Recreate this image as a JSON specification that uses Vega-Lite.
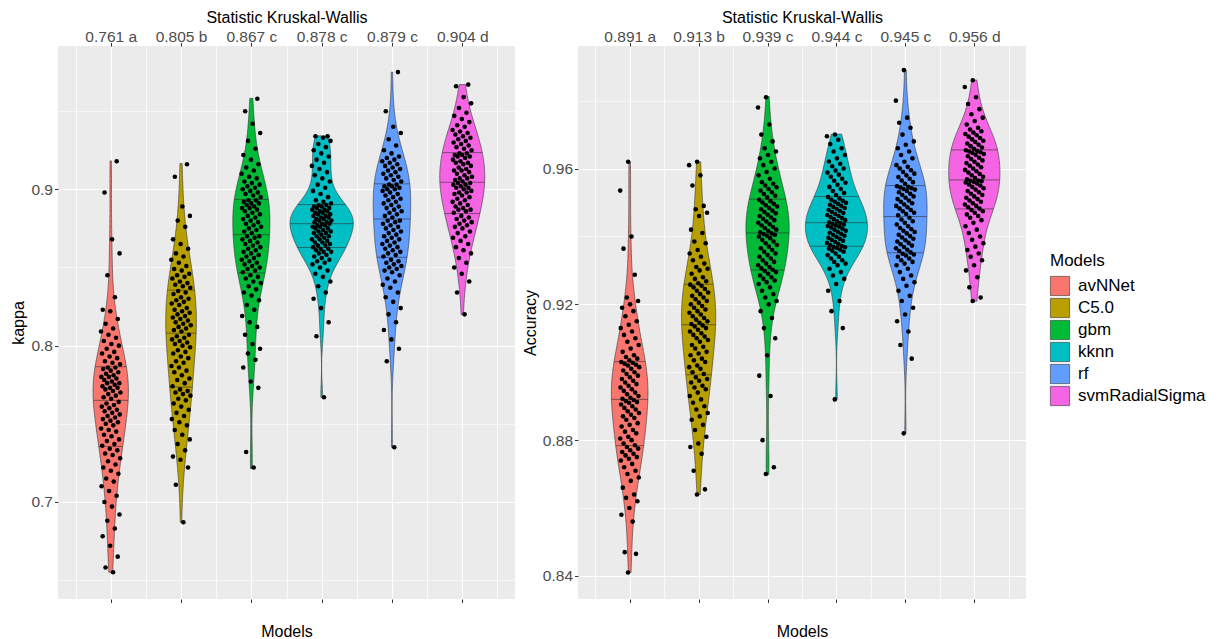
{
"$schema": "https://vega.github.io/schema/vega-lite/v6.json",
"background": "white",
"padding": {"left": 10, "top": 9, "right": 5, "bottom": 0},
"datasets": {"cv": [
{"Models":"avNNet","kappa":0.655,"Accuracy":0.841},{"Models":"avNNet","kappa":0.658,"Accuracy":0.8465},{"Models":"avNNet","kappa":0.665,"Accuracy":0.847},{"Models":"avNNet","kappa":0.672,"Accuracy":0.856},{"Models":"avNNet","kappa":0.678,"Accuracy":0.858},
{"Models":"avNNet","kappa":0.683,"Accuracy":0.86},{"Models":"avNNet","kappa":0.688,"Accuracy":0.862},{"Models":"avNNet","kappa":0.692,"Accuracy":0.863},{"Models":"avNNet","kappa":0.697,"Accuracy":0.864},{"Models":"avNNet","kappa":0.7,"Accuracy":0.866},
{"Models":"avNNet","kappa":0.704,"Accuracy":0.868},{"Models":"avNNet","kappa":0.707,"Accuracy":0.869},{"Models":"avNNet","kappa":0.71,"Accuracy":0.87},{"Models":"avNNet","kappa":0.713,"Accuracy":0.871},{"Models":"avNNet","kappa":0.715,"Accuracy":0.872},
{"Models":"avNNet","kappa":0.718,"Accuracy":0.873},{"Models":"avNNet","kappa":0.72,"Accuracy":0.874},{"Models":"avNNet","kappa":0.722,"Accuracy":0.8745},{"Models":"avNNet","kappa":0.724,"Accuracy":0.875},{"Models":"avNNet","kappa":0.726,"Accuracy":0.8755},
{"Models":"avNNet","kappa":0.728,"Accuracy":0.876},{"Models":"avNNet","kappa":0.73,"Accuracy":0.8765},{"Models":"avNNet","kappa":0.731,"Accuracy":0.877},{"Models":"avNNet","kappa":0.733,"Accuracy":0.8775},{"Models":"avNNet","kappa":0.734,"Accuracy":0.878},
{"Models":"avNNet","kappa":0.736,"Accuracy":0.8785},{"Models":"avNNet","kappa":0.737,"Accuracy":0.879},{"Models":"avNNet","kappa":0.739,"Accuracy":0.88},{"Models":"avNNet","kappa":0.74,"Accuracy":0.8805},{"Models":"avNNet","kappa":0.742,"Accuracy":0.881},
{"Models":"avNNet","kappa":0.743,"Accuracy":0.882},{"Models":"avNNet","kappa":0.745,"Accuracy":0.8825},{"Models":"avNNet","kappa":0.746,"Accuracy":0.883},{"Models":"avNNet","kappa":0.747,"Accuracy":0.884},{"Models":"avNNet","kappa":0.749,"Accuracy":0.8845},
{"Models":"avNNet","kappa":0.75,"Accuracy":0.885},{"Models":"avNNet","kappa":0.751,"Accuracy":0.886},{"Models":"avNNet","kappa":0.752,"Accuracy":0.8865},{"Models":"avNNet","kappa":0.753,"Accuracy":0.887},{"Models":"avNNet","kappa":0.754,"Accuracy":0.8875},
{"Models":"avNNet","kappa":0.755,"Accuracy":0.888},{"Models":"avNNet","kappa":0.756,"Accuracy":0.8885},{"Models":"avNNet","kappa":0.757,"Accuracy":0.889},{"Models":"avNNet","kappa":0.758,"Accuracy":0.8895},{"Models":"avNNet","kappa":0.759,"Accuracy":0.89},
{"Models":"avNNet","kappa":0.76,"Accuracy":0.8905},{"Models":"avNNet","kappa":0.761,"Accuracy":0.891},{"Models":"avNNet","kappa":0.762,"Accuracy":0.8912},{"Models":"avNNet","kappa":0.763,"Accuracy":0.8915},{"Models":"avNNet","kappa":0.764,"Accuracy":0.8918},
{"Models":"avNNet","kappa":0.766,"Accuracy":0.8922},{"Models":"avNNet","kappa":0.767,"Accuracy":0.8925},{"Models":"avNNet","kappa":0.768,"Accuracy":0.893},{"Models":"avNNet","kappa":0.769,"Accuracy":0.8935},{"Models":"avNNet","kappa":0.77,"Accuracy":0.894},
{"Models":"avNNet","kappa":0.771,"Accuracy":0.8945},{"Models":"avNNet","kappa":0.772,"Accuracy":0.895},{"Models":"avNNet","kappa":0.773,"Accuracy":0.8955},{"Models":"avNNet","kappa":0.773,"Accuracy":0.896},{"Models":"avNNet","kappa":0.774,"Accuracy":0.8965},
{"Models":"avNNet","kappa":0.775,"Accuracy":0.897},{"Models":"avNNet","kappa":0.776,"Accuracy":0.8975},{"Models":"avNNet","kappa":0.776,"Accuracy":0.898},{"Models":"avNNet","kappa":0.777,"Accuracy":0.8985},{"Models":"avNNet","kappa":0.778,"Accuracy":0.899},
{"Models":"avNNet","kappa":0.779,"Accuracy":0.8995},{"Models":"avNNet","kappa":0.78,"Accuracy":0.9},{"Models":"avNNet","kappa":0.78,"Accuracy":0.9005},{"Models":"avNNet","kappa":0.781,"Accuracy":0.901},{"Models":"avNNet","kappa":0.782,"Accuracy":0.9015},
{"Models":"avNNet","kappa":0.783,"Accuracy":0.902},{"Models":"avNNet","kappa":0.784,"Accuracy":0.9022},{"Models":"avNNet","kappa":0.785,"Accuracy":0.9025},{"Models":"avNNet","kappa":0.786,"Accuracy":0.9028},{"Models":"avNNet","kappa":0.786,"Accuracy":0.903},
{"Models":"avNNet","kappa":0.788,"Accuracy":0.9035},{"Models":"avNNet","kappa":0.789,"Accuracy":0.904},{"Models":"avNNet","kappa":0.79,"Accuracy":0.9045},{"Models":"avNNet","kappa":0.792,"Accuracy":0.905},{"Models":"avNNet","kappa":0.793,"Accuracy":0.906},
{"Models":"avNNet","kappa":0.795,"Accuracy":0.907},{"Models":"avNNet","kappa":0.796,"Accuracy":0.908},{"Models":"avNNet","kappa":0.798,"Accuracy":0.909},{"Models":"avNNet","kappa":0.8,"Accuracy":0.91},{"Models":"avNNet","kappa":0.801,"Accuracy":0.911},
{"Models":"avNNet","kappa":0.803,"Accuracy":0.912},{"Models":"avNNet","kappa":0.805,"Accuracy":0.913},{"Models":"avNNet","kappa":0.807,"Accuracy":0.914},{"Models":"avNNet","kappa":0.809,"Accuracy":0.915},{"Models":"avNNet","kappa":0.811,"Accuracy":0.9165},
{"Models":"avNNet","kappa":0.814,"Accuracy":0.918},{"Models":"avNNet","kappa":0.817,"Accuracy":0.919},{"Models":"avNNet","kappa":0.822,"Accuracy":0.92},{"Models":"avNNet","kappa":0.823,"Accuracy":0.921},{"Models":"avNNet","kappa":0.831,"Accuracy":0.922},
{"Models":"avNNet","kappa":0.845,"Accuracy":0.9287},{"Models":"avNNet","kappa":0.859,"Accuracy":0.9364},{"Models":"avNNet","kappa":0.868,"Accuracy":0.94},{"Models":"avNNet","kappa":0.898,"Accuracy":0.9535},{"Models":"avNNet","kappa":0.918,"Accuracy":0.962},
{"Models":"C5.0","kappa":0.687,"Accuracy":0.864},{"Models":"C5.0","kappa":0.711,"Accuracy":0.8655},{"Models":"C5.0","kappa":0.722,"Accuracy":0.871},{"Models":"C5.0","kappa":0.727,"Accuracy":0.876},{"Models":"C5.0","kappa":0.729,"Accuracy":0.878},
{"Models":"C5.0","kappa":0.733,"Accuracy":0.879},{"Models":"C5.0","kappa":0.737,"Accuracy":0.881},{"Models":"C5.0","kappa":0.74,"Accuracy":0.883},{"Models":"C5.0","kappa":0.743,"Accuracy":0.8845},{"Models":"C5.0","kappa":0.746,"Accuracy":0.886},
{"Models":"C5.0","kappa":0.749,"Accuracy":0.887},{"Models":"C5.0","kappa":0.751,"Accuracy":0.888},{"Models":"C5.0","kappa":0.753,"Accuracy":0.889},{"Models":"C5.0","kappa":0.755,"Accuracy":0.89},{"Models":"C5.0","kappa":0.757,"Accuracy":0.891},
{"Models":"C5.0","kappa":0.759,"Accuracy":0.892},{"Models":"C5.0","kappa":0.761,"Accuracy":0.893},{"Models":"C5.0","kappa":0.763,"Accuracy":0.894},{"Models":"C5.0","kappa":0.765,"Accuracy":0.895},{"Models":"C5.0","kappa":0.766,"Accuracy":0.8955},
{"Models":"C5.0","kappa":0.768,"Accuracy":0.896},{"Models":"C5.0","kappa":0.769,"Accuracy":0.897},{"Models":"C5.0","kappa":0.77,"Accuracy":0.8975},{"Models":"C5.0","kappa":0.771,"Accuracy":0.898},{"Models":"C5.0","kappa":0.772,"Accuracy":0.8985},
{"Models":"C5.0","kappa":0.774,"Accuracy":0.8995},{"Models":"C5.0","kappa":0.776,"Accuracy":0.9},{"Models":"C5.0","kappa":0.778,"Accuracy":0.901},{"Models":"C5.0","kappa":0.779,"Accuracy":0.9015},{"Models":"C5.0","kappa":0.781,"Accuracy":0.902},
{"Models":"C5.0","kappa":0.783,"Accuracy":0.903},{"Models":"C5.0","kappa":0.784,"Accuracy":0.9035},{"Models":"C5.0","kappa":0.786,"Accuracy":0.904},{"Models":"C5.0","kappa":0.787,"Accuracy":0.905},{"Models":"C5.0","kappa":0.789,"Accuracy":0.9055},
{"Models":"C5.0","kappa":0.79,"Accuracy":0.906},{"Models":"C5.0","kappa":0.792,"Accuracy":0.907},{"Models":"C5.0","kappa":0.793,"Accuracy":0.9075},{"Models":"C5.0","kappa":0.795,"Accuracy":0.908},{"Models":"C5.0","kappa":0.796,"Accuracy":0.909},
{"Models":"C5.0","kappa":0.797,"Accuracy":0.9095},{"Models":"C5.0","kappa":0.799,"Accuracy":0.91},{"Models":"C5.0","kappa":0.8,"Accuracy":0.9105},{"Models":"C5.0","kappa":0.801,"Accuracy":0.911},{"Models":"C5.0","kappa":0.802,"Accuracy":0.9115},
{"Models":"C5.0","kappa":0.803,"Accuracy":0.912},{"Models":"C5.0","kappa":0.804,"Accuracy":0.9125},{"Models":"C5.0","kappa":0.805,"Accuracy":0.913},{"Models":"C5.0","kappa":0.806,"Accuracy":0.9135},{"Models":"C5.0","kappa":0.807,"Accuracy":0.9138},
{"Models":"C5.0","kappa":0.809,"Accuracy":0.9142},{"Models":"C5.0","kappa":0.81,"Accuracy":0.9146},{"Models":"C5.0","kappa":0.811,"Accuracy":0.915},{"Models":"C5.0","kappa":0.812,"Accuracy":0.9155},{"Models":"C5.0","kappa":0.813,"Accuracy":0.916},
{"Models":"C5.0","kappa":0.814,"Accuracy":0.9165},{"Models":"C5.0","kappa":0.815,"Accuracy":0.917},{"Models":"C5.0","kappa":0.816,"Accuracy":0.9175},{"Models":"C5.0","kappa":0.817,"Accuracy":0.918},{"Models":"C5.0","kappa":0.818,"Accuracy":0.9185},
{"Models":"C5.0","kappa":0.819,"Accuracy":0.919},{"Models":"C5.0","kappa":0.82,"Accuracy":0.9195},{"Models":"C5.0","kappa":0.821,"Accuracy":0.92},{"Models":"C5.0","kappa":0.822,"Accuracy":0.9205},{"Models":"C5.0","kappa":0.823,"Accuracy":0.921},
{"Models":"C5.0","kappa":0.824,"Accuracy":0.9215},{"Models":"C5.0","kappa":0.826,"Accuracy":0.922},{"Models":"C5.0","kappa":0.827,"Accuracy":0.9225},{"Models":"C5.0","kappa":0.828,"Accuracy":0.923},{"Models":"C5.0","kappa":0.829,"Accuracy":0.9235},
{"Models":"C5.0","kappa":0.83,"Accuracy":0.924},{"Models":"C5.0","kappa":0.831,"Accuracy":0.9245},{"Models":"C5.0","kappa":0.833,"Accuracy":0.925},{"Models":"C5.0","kappa":0.834,"Accuracy":0.9255},{"Models":"C5.0","kappa":0.835,"Accuracy":0.9258},
{"Models":"C5.0","kappa":0.837,"Accuracy":0.9262},{"Models":"C5.0","kappa":0.838,"Accuracy":0.9268},{"Models":"C5.0","kappa":0.839,"Accuracy":0.9275},{"Models":"C5.0","kappa":0.84,"Accuracy":0.928},{"Models":"C5.0","kappa":0.841,"Accuracy":0.929},
{"Models":"C5.0","kappa":0.843,"Accuracy":0.93},{"Models":"C5.0","kappa":0.844,"Accuracy":0.9305},{"Models":"C5.0","kappa":0.845,"Accuracy":0.931},{"Models":"C5.0","kappa":0.846,"Accuracy":0.932},{"Models":"C5.0","kappa":0.848,"Accuracy":0.933},
{"Models":"C5.0","kappa":0.849,"Accuracy":0.934},{"Models":"C5.0","kappa":0.851,"Accuracy":0.935},{"Models":"C5.0","kappa":0.853,"Accuracy":0.936},{"Models":"C5.0","kappa":0.855,"Accuracy":0.938},{"Models":"C5.0","kappa":0.857,"Accuracy":0.9385},
{"Models":"C5.0","kappa":0.859,"Accuracy":0.941},{"Models":"C5.0","kappa":0.862,"Accuracy":0.942},{"Models":"C5.0","kappa":0.865,"Accuracy":0.946},{"Models":"C5.0","kappa":0.868,"Accuracy":0.947},{"Models":"C5.0","kappa":0.876,"Accuracy":0.948},
{"Models":"C5.0","kappa":0.88,"Accuracy":0.949},{"Models":"C5.0","kappa":0.883,"Accuracy":0.955},{"Models":"C5.0","kappa":0.889,"Accuracy":0.958},{"Models":"C5.0","kappa":0.908,"Accuracy":0.961},{"Models":"C5.0","kappa":0.916,"Accuracy":0.962},
{"Models":"gbm","kappa":0.722,"Accuracy":0.87},{"Models":"gbm","kappa":0.732,"Accuracy":0.872},{"Models":"gbm","kappa":0.773,"Accuracy":0.88},{"Models":"gbm","kappa":0.777,"Accuracy":0.893},{"Models":"gbm","kappa":0.786,"Accuracy":0.899},
{"Models":"gbm","kappa":0.791,"Accuracy":0.905},{"Models":"gbm","kappa":0.795,"Accuracy":0.91},{"Models":"gbm","kappa":0.798,"Accuracy":0.913},{"Models":"gbm","kappa":0.801,"Accuracy":0.916},{"Models":"gbm","kappa":0.807,"Accuracy":0.918},
{"Models":"gbm","kappa":0.812,"Accuracy":0.92},{"Models":"gbm","kappa":0.815,"Accuracy":0.921},{"Models":"gbm","kappa":0.819,"Accuracy":0.922},{"Models":"gbm","kappa":0.823,"Accuracy":0.923},{"Models":"gbm","kappa":0.826,"Accuracy":0.924},
{"Models":"gbm","kappa":0.829,"Accuracy":0.925},{"Models":"gbm","kappa":0.832,"Accuracy":0.926},{"Models":"gbm","kappa":0.834,"Accuracy":0.9265},{"Models":"gbm","kappa":0.836,"Accuracy":0.927},{"Models":"gbm","kappa":0.838,"Accuracy":0.9275},
{"Models":"gbm","kappa":0.84,"Accuracy":0.928},{"Models":"gbm","kappa":0.841,"Accuracy":0.9285},{"Models":"gbm","kappa":0.843,"Accuracy":0.929},{"Models":"gbm","kappa":0.844,"Accuracy":0.9295},{"Models":"gbm","kappa":0.845,"Accuracy":0.9298},
{"Models":"gbm","kappa":0.847,"Accuracy":0.9302},{"Models":"gbm","kappa":0.848,"Accuracy":0.9306},{"Models":"gbm","kappa":0.849,"Accuracy":0.931},{"Models":"gbm","kappa":0.85,"Accuracy":0.9315},{"Models":"gbm","kappa":0.851,"Accuracy":0.932},
{"Models":"gbm","kappa":0.852,"Accuracy":0.9325},{"Models":"gbm","kappa":0.853,"Accuracy":0.933},{"Models":"gbm","kappa":0.854,"Accuracy":0.9335},{"Models":"gbm","kappa":0.855,"Accuracy":0.934},{"Models":"gbm","kappa":0.856,"Accuracy":0.9345},
{"Models":"gbm","kappa":0.857,"Accuracy":0.935},{"Models":"gbm","kappa":0.858,"Accuracy":0.9355},{"Models":"gbm","kappa":0.859,"Accuracy":0.936},{"Models":"gbm","kappa":0.86,"Accuracy":0.9365},{"Models":"gbm","kappa":0.861,"Accuracy":0.937},
{"Models":"gbm","kappa":0.862,"Accuracy":0.9375},{"Models":"gbm","kappa":0.863,"Accuracy":0.938},{"Models":"gbm","kappa":0.864,"Accuracy":0.9385},{"Models":"gbm","kappa":0.865,"Accuracy":0.939},{"Models":"gbm","kappa":0.866,"Accuracy":0.9395},
{"Models":"gbm","kappa":0.867,"Accuracy":0.94},{"Models":"gbm","kappa":0.868,"Accuracy":0.9402},{"Models":"gbm","kappa":0.869,"Accuracy":0.9405},{"Models":"gbm","kappa":0.87,"Accuracy":0.9407},{"Models":"gbm","kappa":0.87,"Accuracy":0.9409},
{"Models":"gbm","kappa":0.872,"Accuracy":0.9412},{"Models":"gbm","kappa":0.873,"Accuracy":0.9416},{"Models":"gbm","kappa":0.874,"Accuracy":0.942},{"Models":"gbm","kappa":0.875,"Accuracy":0.9424},{"Models":"gbm","kappa":0.876,"Accuracy":0.9428},
{"Models":"gbm","kappa":0.877,"Accuracy":0.9432},{"Models":"gbm","kappa":0.878,"Accuracy":0.9436},{"Models":"gbm","kappa":0.879,"Accuracy":0.944},{"Models":"gbm","kappa":0.88,"Accuracy":0.9444},{"Models":"gbm","kappa":0.881,"Accuracy":0.9448},
{"Models":"gbm","kappa":0.882,"Accuracy":0.9452},{"Models":"gbm","kappa":0.883,"Accuracy":0.9456},{"Models":"gbm","kappa":0.884,"Accuracy":0.946},{"Models":"gbm","kappa":0.885,"Accuracy":0.9464},{"Models":"gbm","kappa":0.886,"Accuracy":0.9468},
{"Models":"gbm","kappa":0.887,"Accuracy":0.9472},{"Models":"gbm","kappa":0.888,"Accuracy":0.9476},{"Models":"gbm","kappa":0.888,"Accuracy":0.948},{"Models":"gbm","kappa":0.889,"Accuracy":0.9484},{"Models":"gbm","kappa":0.89,"Accuracy":0.9488},
{"Models":"gbm","kappa":0.891,"Accuracy":0.9492},{"Models":"gbm","kappa":0.891,"Accuracy":0.9496},{"Models":"gbm","kappa":0.892,"Accuracy":0.95},{"Models":"gbm","kappa":0.893,"Accuracy":0.9504},{"Models":"gbm","kappa":0.893,"Accuracy":0.9508},
{"Models":"gbm","kappa":0.895,"Accuracy":0.9515},{"Models":"gbm","kappa":0.896,"Accuracy":0.952},{"Models":"gbm","kappa":0.897,"Accuracy":0.9525},{"Models":"gbm","kappa":0.898,"Accuracy":0.953},{"Models":"gbm","kappa":0.899,"Accuracy":0.9535},
{"Models":"gbm","kappa":0.9,"Accuracy":0.954},{"Models":"gbm","kappa":0.901,"Accuracy":0.9545},{"Models":"gbm","kappa":0.902,"Accuracy":0.955},{"Models":"gbm","kappa":0.903,"Accuracy":0.9555},{"Models":"gbm","kappa":0.904,"Accuracy":0.956},
{"Models":"gbm","kappa":0.905,"Accuracy":0.957},{"Models":"gbm","kappa":0.907,"Accuracy":0.958},{"Models":"gbm","kappa":0.908,"Accuracy":0.959},{"Models":"gbm","kappa":0.91,"Accuracy":0.96},{"Models":"gbm","kappa":0.912,"Accuracy":0.961},
{"Models":"gbm","kappa":0.914,"Accuracy":0.962},{"Models":"gbm","kappa":0.916,"Accuracy":0.963},{"Models":"gbm","kappa":0.919,"Accuracy":0.964},{"Models":"gbm","kappa":0.922,"Accuracy":0.965},{"Models":"gbm","kappa":0.926,"Accuracy":0.966},
{"Models":"gbm","kappa":0.931,"Accuracy":0.968},{"Models":"gbm","kappa":0.936,"Accuracy":0.97},{"Models":"gbm","kappa":0.942,"Accuracy":0.973},{"Models":"gbm","kappa":0.95,"Accuracy":0.978},{"Models":"gbm","kappa":0.958,"Accuracy":0.981},
{"Models":"kknn","kappa":0.767,"Accuracy":0.892},{"Models":"kknn","kappa":0.806,"Accuracy":0.913},{"Models":"kknn","kappa":0.815,"Accuracy":0.918},{"Models":"kknn","kappa":0.824,"Accuracy":0.921},{"Models":"kknn","kappa":0.83,"Accuracy":0.924},
{"Models":"kknn","kappa":0.834,"Accuracy":0.926},{"Models":"kknn","kappa":0.838,"Accuracy":0.9275},{"Models":"kknn","kappa":0.841,"Accuracy":0.9285},{"Models":"kknn","kappa":0.844,"Accuracy":0.9295},{"Models":"kknn","kappa":0.846,"Accuracy":0.9305},
{"Models":"kknn","kappa":0.848,"Accuracy":0.9315},{"Models":"kknn","kappa":0.85,"Accuracy":0.932},{"Models":"kknn","kappa":0.852,"Accuracy":0.9325},{"Models":"kknn","kappa":0.853,"Accuracy":0.933},{"Models":"kknn","kappa":0.854,"Accuracy":0.9335},
{"Models":"kknn","kappa":0.855,"Accuracy":0.934},{"Models":"kknn","kappa":0.856,"Accuracy":0.9345},{"Models":"kknn","kappa":0.857,"Accuracy":0.935},{"Models":"kknn","kappa":0.858,"Accuracy":0.9355},{"Models":"kknn","kappa":0.859,"Accuracy":0.9358},
{"Models":"kknn","kappa":0.86,"Accuracy":0.9361},{"Models":"kknn","kappa":0.86,"Accuracy":0.9364},{"Models":"kknn","kappa":0.861,"Accuracy":0.9366},{"Models":"kknn","kappa":0.862,"Accuracy":0.9368},{"Models":"kknn","kappa":0.862,"Accuracy":0.9369},
{"Models":"kknn","kappa":0.863,"Accuracy":0.9372},{"Models":"kknn","kappa":0.864,"Accuracy":0.9375},{"Models":"kknn","kappa":0.864,"Accuracy":0.9378},{"Models":"kknn","kappa":0.865,"Accuracy":0.9381},{"Models":"kknn","kappa":0.866,"Accuracy":0.9384},
{"Models":"kknn","kappa":0.866,"Accuracy":0.9387},{"Models":"kknn","kappa":0.867,"Accuracy":0.939},{"Models":"kknn","kappa":0.868,"Accuracy":0.9393},{"Models":"kknn","kappa":0.868,"Accuracy":0.9396},{"Models":"kknn","kappa":0.869,"Accuracy":0.9399},
{"Models":"kknn","kappa":0.87,"Accuracy":0.9402},{"Models":"kknn","kappa":0.87,"Accuracy":0.9405},{"Models":"kknn","kappa":0.871,"Accuracy":0.9408},{"Models":"kknn","kappa":0.872,"Accuracy":0.9411},{"Models":"kknn","kappa":0.872,"Accuracy":0.9414},
{"Models":"kknn","kappa":0.873,"Accuracy":0.9417},{"Models":"kknn","kappa":0.873,"Accuracy":0.942},{"Models":"kknn","kappa":0.874,"Accuracy":0.9423},{"Models":"kknn","kappa":0.875,"Accuracy":0.9426},{"Models":"kknn","kappa":0.875,"Accuracy":0.9429},
{"Models":"kknn","kappa":0.876,"Accuracy":0.9431},{"Models":"kknn","kappa":0.876,"Accuracy":0.9433},{"Models":"kknn","kappa":0.877,"Accuracy":0.9435},{"Models":"kknn","kappa":0.877,"Accuracy":0.9437},{"Models":"kknn","kappa":0.878,"Accuracy":0.9439},
{"Models":"kknn","kappa":0.878,"Accuracy":0.9442},{"Models":"kknn","kappa":0.879,"Accuracy":0.9445},{"Models":"kknn","kappa":0.879,"Accuracy":0.9448},{"Models":"kknn","kappa":0.88,"Accuracy":0.9451},{"Models":"kknn","kappa":0.88,"Accuracy":0.9454},
{"Models":"kknn","kappa":0.881,"Accuracy":0.9457},{"Models":"kknn","kappa":0.881,"Accuracy":0.946},{"Models":"kknn","kappa":0.882,"Accuracy":0.9463},{"Models":"kknn","kappa":0.882,"Accuracy":0.9466},{"Models":"kknn","kappa":0.883,"Accuracy":0.9469},
{"Models":"kknn","kappa":0.883,"Accuracy":0.9472},{"Models":"kknn","kappa":0.884,"Accuracy":0.9475},{"Models":"kknn","kappa":0.884,"Accuracy":0.9478},{"Models":"kknn","kappa":0.885,"Accuracy":0.9481},{"Models":"kknn","kappa":0.885,"Accuracy":0.9484},
{"Models":"kknn","kappa":0.886,"Accuracy":0.9487},{"Models":"kknn","kappa":0.886,"Accuracy":0.949},{"Models":"kknn","kappa":0.887,"Accuracy":0.9493},{"Models":"kknn","kappa":0.887,"Accuracy":0.9496},{"Models":"kknn","kappa":0.888,"Accuracy":0.9499},
{"Models":"kknn","kappa":0.888,"Accuracy":0.9502},{"Models":"kknn","kappa":0.889,"Accuracy":0.9505},{"Models":"kknn","kappa":0.889,"Accuracy":0.9508},{"Models":"kknn","kappa":0.89,"Accuracy":0.9512},{"Models":"kknn","kappa":0.89,"Accuracy":0.9516},
{"Models":"kknn","kappa":0.891,"Accuracy":0.9522},{"Models":"kknn","kappa":0.892,"Accuracy":0.9528},{"Models":"kknn","kappa":0.893,"Accuracy":0.9534},{"Models":"kknn","kappa":0.895,"Accuracy":0.954},{"Models":"kknn","kappa":0.897,"Accuracy":0.9546},
{"Models":"kknn","kappa":0.899,"Accuracy":0.9552},{"Models":"kknn","kappa":0.901,"Accuracy":0.9558},{"Models":"kknn","kappa":0.903,"Accuracy":0.9564},{"Models":"kknn","kappa":0.905,"Accuracy":0.957},{"Models":"kknn","kappa":0.907,"Accuracy":0.9576},
{"Models":"kknn","kappa":0.909,"Accuracy":0.9582},{"Models":"kknn","kappa":0.911,"Accuracy":0.9588},{"Models":"kknn","kappa":0.913,"Accuracy":0.9594},{"Models":"kknn","kappa":0.915,"Accuracy":0.96},{"Models":"kknn","kappa":0.917,"Accuracy":0.9607},
{"Models":"kknn","kappa":0.919,"Accuracy":0.9614},{"Models":"kknn","kappa":0.921,"Accuracy":0.9621},{"Models":"kknn","kappa":0.923,"Accuracy":0.963},{"Models":"kknn","kappa":0.925,"Accuracy":0.964},{"Models":"kknn","kappa":0.927,"Accuracy":0.965},
{"Models":"kknn","kappa":0.929,"Accuracy":0.966},{"Models":"kknn","kappa":0.931,"Accuracy":0.9672},{"Models":"kknn","kappa":0.933,"Accuracy":0.9685},{"Models":"kknn","kappa":0.934,"Accuracy":0.9695},{"Models":"kknn","kappa":0.934,"Accuracy":0.97},
{"Models":"rf","kappa":0.735,"Accuracy":0.882},{"Models":"rf","kappa":0.79,"Accuracy":0.904},{"Models":"rf","kappa":0.798,"Accuracy":0.908},{"Models":"rf","kappa":0.804,"Accuracy":0.912},{"Models":"rf","kappa":0.81,"Accuracy":0.915},
{"Models":"rf","kappa":0.815,"Accuracy":0.917},{"Models":"rf","kappa":0.82,"Accuracy":0.919},{"Models":"rf","kappa":0.824,"Accuracy":0.921},{"Models":"rf","kappa":0.828,"Accuracy":0.9225},{"Models":"rf","kappa":0.831,"Accuracy":0.924},
{"Models":"rf","kappa":0.834,"Accuracy":0.9255},{"Models":"rf","kappa":0.837,"Accuracy":0.9265},{"Models":"rf","kappa":0.839,"Accuracy":0.9275},{"Models":"rf","kappa":0.841,"Accuracy":0.9285},{"Models":"rf","kappa":0.843,"Accuracy":0.9295},
{"Models":"rf","kappa":0.845,"Accuracy":0.9305},{"Models":"rf","kappa":0.847,"Accuracy":0.9315},{"Models":"rf","kappa":0.848,"Accuracy":0.932},{"Models":"rf","kappa":0.849,"Accuracy":0.9325},{"Models":"rf","kappa":0.85,"Accuracy":0.933},
{"Models":"rf","kappa":0.851,"Accuracy":0.9335},{"Models":"rf","kappa":0.852,"Accuracy":0.934},{"Models":"rf","kappa":0.853,"Accuracy":0.9344},{"Models":"rf","kappa":0.854,"Accuracy":0.9347},{"Models":"rf","kappa":0.855,"Accuracy":0.9349},
{"Models":"rf","kappa":0.857,"Accuracy":0.9353},{"Models":"rf","kappa":0.858,"Accuracy":0.9357},{"Models":"rf","kappa":0.859,"Accuracy":0.9361},{"Models":"rf","kappa":0.86,"Accuracy":0.9365},{"Models":"rf","kappa":0.861,"Accuracy":0.9369},
{"Models":"rf","kappa":0.862,"Accuracy":0.9373},{"Models":"rf","kappa":0.863,"Accuracy":0.9377},{"Models":"rf","kappa":0.864,"Accuracy":0.9381},{"Models":"rf","kappa":0.865,"Accuracy":0.9385},{"Models":"rf","kappa":0.866,"Accuracy":0.9389},
{"Models":"rf","kappa":0.867,"Accuracy":0.9393},{"Models":"rf","kappa":0.868,"Accuracy":0.9397},{"Models":"rf","kappa":0.869,"Accuracy":0.9401},{"Models":"rf","kappa":0.87,"Accuracy":0.9405},{"Models":"rf","kappa":0.871,"Accuracy":0.9409},
{"Models":"rf","kappa":0.872,"Accuracy":0.9413},{"Models":"rf","kappa":0.873,"Accuracy":0.9417},{"Models":"rf","kappa":0.874,"Accuracy":0.9421},{"Models":"rf","kappa":0.875,"Accuracy":0.9425},{"Models":"rf","kappa":0.876,"Accuracy":0.943},
{"Models":"rf","kappa":0.877,"Accuracy":0.9435},{"Models":"rf","kappa":0.878,"Accuracy":0.944},{"Models":"rf","kappa":0.879,"Accuracy":0.9445},{"Models":"rf","kappa":0.88,"Accuracy":0.945},{"Models":"rf","kappa":0.88,"Accuracy":0.9455},
{"Models":"rf","kappa":0.882,"Accuracy":0.9462},{"Models":"rf","kappa":0.883,"Accuracy":0.9466},{"Models":"rf","kappa":0.884,"Accuracy":0.947},{"Models":"rf","kappa":0.885,"Accuracy":0.9474},{"Models":"rf","kappa":0.886,"Accuracy":0.9478},
{"Models":"rf","kappa":0.887,"Accuracy":0.9482},{"Models":"rf","kappa":0.888,"Accuracy":0.9486},{"Models":"rf","kappa":0.889,"Accuracy":0.949},{"Models":"rf","kappa":0.89,"Accuracy":0.9494},{"Models":"rf","kappa":0.891,"Accuracy":0.9498},
{"Models":"rf","kappa":0.892,"Accuracy":0.9502},{"Models":"rf","kappa":0.893,"Accuracy":0.9506},{"Models":"rf","kappa":0.894,"Accuracy":0.951},{"Models":"rf","kappa":0.895,"Accuracy":0.9514},{"Models":"rf","kappa":0.896,"Accuracy":0.9518},
{"Models":"rf","kappa":0.897,"Accuracy":0.9522},{"Models":"rf","kappa":0.898,"Accuracy":0.9526},{"Models":"rf","kappa":0.899,"Accuracy":0.953},{"Models":"rf","kappa":0.9,"Accuracy":0.9534},{"Models":"rf","kappa":0.9,"Accuracy":0.9538},
{"Models":"rf","kappa":0.901,"Accuracy":0.954},{"Models":"rf","kappa":0.902,"Accuracy":0.9542},{"Models":"rf","kappa":0.902,"Accuracy":0.9544},{"Models":"rf","kappa":0.903,"Accuracy":0.9546},{"Models":"rf","kappa":0.903,"Accuracy":0.9548},
{"Models":"rf","kappa":0.905,"Accuracy":0.9555},{"Models":"rf","kappa":0.906,"Accuracy":0.956},{"Models":"rf","kappa":0.907,"Accuracy":0.9565},{"Models":"rf","kappa":0.908,"Accuracy":0.957},{"Models":"rf","kappa":0.909,"Accuracy":0.9575},
{"Models":"rf","kappa":0.91,"Accuracy":0.958},{"Models":"rf","kappa":0.911,"Accuracy":0.9585},{"Models":"rf","kappa":0.912,"Accuracy":0.959},{"Models":"rf","kappa":0.913,"Accuracy":0.9595},{"Models":"rf","kappa":0.914,"Accuracy":0.96},
{"Models":"rf","kappa":0.915,"Accuracy":0.9605},{"Models":"rf","kappa":0.916,"Accuracy":0.961},{"Models":"rf","kappa":0.917,"Accuracy":0.962},{"Models":"rf","kappa":0.918,"Accuracy":0.963},{"Models":"rf","kappa":0.919,"Accuracy":0.964},
{"Models":"rf","kappa":0.92,"Accuracy":0.965},{"Models":"rf","kappa":0.921,"Accuracy":0.966},{"Models":"rf","kappa":0.923,"Accuracy":0.967},{"Models":"rf","kappa":0.925,"Accuracy":0.968},{"Models":"rf","kappa":0.928,"Accuracy":0.97},
{"Models":"rf","kappa":0.932,"Accuracy":0.972},{"Models":"rf","kappa":0.936,"Accuracy":0.9735},{"Models":"rf","kappa":0.94,"Accuracy":0.975},{"Models":"rf","kappa":0.95,"Accuracy":0.98},{"Models":"rf","kappa":0.975,"Accuracy":0.989},
{"Models":"svmRadialSigma","kappa":0.82,"Accuracy":0.921},{"Models":"svmRadialSigma","kappa":0.834,"Accuracy":0.922},{"Models":"svmRadialSigma","kappa":0.841,"Accuracy":0.925},{"Models":"svmRadialSigma","kappa":0.846,"Accuracy":0.928},{"Models":"svmRadialSigma","kappa":0.85,"Accuracy":0.93},
{"Models":"svmRadialSigma","kappa":0.853,"Accuracy":0.9315},{"Models":"svmRadialSigma","kappa":0.856,"Accuracy":0.933},{"Models":"svmRadialSigma","kappa":0.859,"Accuracy":0.934},{"Models":"svmRadialSigma","kappa":0.861,"Accuracy":0.935},{"Models":"svmRadialSigma","kappa":0.863,"Accuracy":0.936},
{"Models":"svmRadialSigma","kappa":0.865,"Accuracy":0.937},{"Models":"svmRadialSigma","kappa":0.867,"Accuracy":0.938},{"Models":"svmRadialSigma","kappa":0.869,"Accuracy":0.939},{"Models":"svmRadialSigma","kappa":0.87,"Accuracy":0.94},{"Models":"svmRadialSigma","kappa":0.872,"Accuracy":0.941},
{"Models":"svmRadialSigma","kappa":0.873,"Accuracy":0.942},{"Models":"svmRadialSigma","kappa":0.875,"Accuracy":0.943},{"Models":"svmRadialSigma","kappa":0.876,"Accuracy":0.944},{"Models":"svmRadialSigma","kappa":0.877,"Accuracy":0.9448},{"Models":"svmRadialSigma","kappa":0.878,"Accuracy":0.9455},
{"Models":"svmRadialSigma","kappa":0.879,"Accuracy":0.946},{"Models":"svmRadialSigma","kappa":0.88,"Accuracy":0.9465},{"Models":"svmRadialSigma","kappa":0.881,"Accuracy":0.947},{"Models":"svmRadialSigma","kappa":0.882,"Accuracy":0.9474},{"Models":"svmRadialSigma","kappa":0.883,"Accuracy":0.9478},
{"Models":"svmRadialSigma","kappa":0.885,"Accuracy":0.9482},{"Models":"svmRadialSigma","kappa":0.886,"Accuracy":0.9486},{"Models":"svmRadialSigma","kappa":0.887,"Accuracy":0.949},{"Models":"svmRadialSigma","kappa":0.887,"Accuracy":0.9494},{"Models":"svmRadialSigma","kappa":0.888,"Accuracy":0.9498},
{"Models":"svmRadialSigma","kappa":0.889,"Accuracy":0.9502},{"Models":"svmRadialSigma","kappa":0.89,"Accuracy":0.9506},{"Models":"svmRadialSigma","kappa":0.891,"Accuracy":0.951},{"Models":"svmRadialSigma","kappa":0.892,"Accuracy":0.9514},{"Models":"svmRadialSigma","kappa":0.893,"Accuracy":0.9518},
{"Models":"svmRadialSigma","kappa":0.894,"Accuracy":0.9522},{"Models":"svmRadialSigma","kappa":0.895,"Accuracy":0.9526},{"Models":"svmRadialSigma","kappa":0.896,"Accuracy":0.953},{"Models":"svmRadialSigma","kappa":0.897,"Accuracy":0.9534},{"Models":"svmRadialSigma","kappa":0.898,"Accuracy":0.9538},
{"Models":"svmRadialSigma","kappa":0.898,"Accuracy":0.9542},{"Models":"svmRadialSigma","kappa":0.899,"Accuracy":0.9546},{"Models":"svmRadialSigma","kappa":0.9,"Accuracy":0.955},{"Models":"svmRadialSigma","kappa":0.901,"Accuracy":0.9553},{"Models":"svmRadialSigma","kappa":0.901,"Accuracy":0.9556},
{"Models":"svmRadialSigma","kappa":0.902,"Accuracy":0.9559},{"Models":"svmRadialSigma","kappa":0.903,"Accuracy":0.9561},{"Models":"svmRadialSigma","kappa":0.903,"Accuracy":0.9563},{"Models":"svmRadialSigma","kappa":0.904,"Accuracy":0.9564},{"Models":"svmRadialSigma","kappa":0.904,"Accuracy":0.9565},
{"Models":"svmRadialSigma","kappa":0.905,"Accuracy":0.9568},{"Models":"svmRadialSigma","kappa":0.906,"Accuracy":0.9572},{"Models":"svmRadialSigma","kappa":0.907,"Accuracy":0.9576},{"Models":"svmRadialSigma","kappa":0.907,"Accuracy":0.958},{"Models":"svmRadialSigma","kappa":0.908,"Accuracy":0.9584},
{"Models":"svmRadialSigma","kappa":0.909,"Accuracy":0.9588},{"Models":"svmRadialSigma","kappa":0.91,"Accuracy":0.9592},{"Models":"svmRadialSigma","kappa":0.911,"Accuracy":0.9596},{"Models":"svmRadialSigma","kappa":0.912,"Accuracy":0.96},{"Models":"svmRadialSigma","kappa":0.912,"Accuracy":0.9604},
{"Models":"svmRadialSigma","kappa":0.913,"Accuracy":0.9608},{"Models":"svmRadialSigma","kappa":0.914,"Accuracy":0.9612},{"Models":"svmRadialSigma","kappa":0.915,"Accuracy":0.9616},{"Models":"svmRadialSigma","kappa":0.916,"Accuracy":0.962},{"Models":"svmRadialSigma","kappa":0.917,"Accuracy":0.9624},
{"Models":"svmRadialSigma","kappa":0.917,"Accuracy":0.9628},{"Models":"svmRadialSigma","kappa":0.918,"Accuracy":0.9632},{"Models":"svmRadialSigma","kappa":0.919,"Accuracy":0.9636},{"Models":"svmRadialSigma","kappa":0.92,"Accuracy":0.964},{"Models":"svmRadialSigma","kappa":0.921,"Accuracy":0.9643},
{"Models":"svmRadialSigma","kappa":0.921,"Accuracy":0.9646},{"Models":"svmRadialSigma","kappa":0.922,"Accuracy":0.9648},{"Models":"svmRadialSigma","kappa":0.922,"Accuracy":0.965},{"Models":"svmRadialSigma","kappa":0.923,"Accuracy":0.9652},{"Models":"svmRadialSigma","kappa":0.923,"Accuracy":0.9654},
{"Models":"svmRadialSigma","kappa":0.925,"Accuracy":0.9658},{"Models":"svmRadialSigma","kappa":0.926,"Accuracy":0.9662},{"Models":"svmRadialSigma","kappa":0.927,"Accuracy":0.9666},{"Models":"svmRadialSigma","kappa":0.928,"Accuracy":0.967},{"Models":"svmRadialSigma","kappa":0.929,"Accuracy":0.9674},
{"Models":"svmRadialSigma","kappa":0.93,"Accuracy":0.9678},{"Models":"svmRadialSigma","kappa":0.931,"Accuracy":0.9682},{"Models":"svmRadialSigma","kappa":0.932,"Accuracy":0.9686},{"Models":"svmRadialSigma","kappa":0.933,"Accuracy":0.969},{"Models":"svmRadialSigma","kappa":0.934,"Accuracy":0.9694},
{"Models":"svmRadialSigma","kappa":0.935,"Accuracy":0.9698},{"Models":"svmRadialSigma","kappa":0.936,"Accuracy":0.9702},{"Models":"svmRadialSigma","kappa":0.937,"Accuracy":0.9706},{"Models":"svmRadialSigma","kappa":0.938,"Accuracy":0.971},{"Models":"svmRadialSigma","kappa":0.94,"Accuracy":0.9715},
{"Models":"svmRadialSigma","kappa":0.941,"Accuracy":0.972},{"Models":"svmRadialSigma","kappa":0.943,"Accuracy":0.973},{"Models":"svmRadialSigma","kappa":0.945,"Accuracy":0.974},{"Models":"svmRadialSigma","kappa":0.947,"Accuracy":0.975},{"Models":"svmRadialSigma","kappa":0.949,"Accuracy":0.976},
{"Models":"svmRadialSigma","kappa":0.952,"Accuracy":0.9775},{"Models":"svmRadialSigma","kappa":0.955,"Accuracy":0.979},{"Models":"svmRadialSigma","kappa":0.959,"Accuracy":0.981},{"Models":"svmRadialSigma","kappa":0.966,"Accuracy":0.984},{"Models":"svmRadialSigma","kappa":0.967,"Accuracy":0.986}
]},
"hconcat": [
{
 "width": 457, "height": 553,
 "data": {"name": "cv"},
 "transform": [{"calculate": "indexof(['avNNet','C5.0','gbm','kknn','rf','svmRadialSigma'], datum.Models) + 1", "as": "idx"}],
 "layer": [
  {
   "transform": [
    {"joinaggregate": [{"op": "min", "field": "kappa", "as": "lo"}, {"op": "max", "field": "kappa", "as": "hi"}], "groupby": ["Models"]},
    {"density": "kappa", "groupby": ["Models", "idx", "lo", "hi"], "steps": 400, "as": ["value", "density"]},
    {"joinaggregate": [{"op": "max", "field": "density", "as": "dmax"}]},
    {"filter": "datum.value >= datum.lo - 0.0006 && datum.value <= datum.hi + 0.0006"},
    {"calculate": "datum.idx - 0.45 * datum.density / datum.dmax", "as": "xa"},
    {"calculate": "datum.idx + 0.45 * datum.density / datum.dmax", "as": "xb"}
   ],
   "mark": {"type": "area", "orient": "horizontal", "stroke": "#333333", "strokeWidth": 0.6},
   "encoding": {
    "y": {"field": "value", "type": "quantitative", "scale": {"domain": [0.6379, 0.9917], "nice": false, "zero": false},
          "axis": {"title": "kappa", "values": [0.65, 0.7, 0.75, 0.8, 0.85, 0.9, 0.95], "format": ".1f",
                   "labelExpr": "indexof([0.7, 0.8, 0.9], datum.value) >= 0 ? datum.label : ''",
                   "tickOpacity": {"condition": {"test": "indexof([0.7, 0.8, 0.9], datum.value) >= 0", "value": 1}, "value": 0},
                   "gridWidth": {"condition": {"test": "indexof([0.7, 0.8, 0.9], datum.value) >= 0", "value": 1.2}, "value": 0.6},
                   "labelPadding": 2, "titlePadding": 4}},
    "x": {"field": "xa", "type": "quantitative", "scale": {"domain": [0.25, 6.75], "nice": false, "zero": false},
          "axis": {"orient": "bottom", "title": "Models", "values": [0.5, 1, 1.5, 2, 2.5, 3, 3.5, 4, 4.5, 5, 5.5, 6, 6.5], "labels": false,
                   "tickOpacity": {"condition": {"test": "datum.value % 1 == 0", "value": 1}, "value": 0},
                   "gridWidth": {"condition": {"test": "datum.value % 1 == 0", "value": 1.1}, "value": 0.8},
                   "titlePadding": 20}},
    "x2": {"field": "xb"},
    "fill": {"field": "Models", "type": "nominal", "scale": {"domain": ["avNNet", "C5.0", "gbm", "kknn", "rf", "svmRadialSigma"], "range": ["#F8766D", "#B79F00", "#00BA38", "#00BFC4", "#619CFF", "#F564E3"]}, "legend": null}
   }
  },
  {
   "transform": [
    {"joinaggregate": [{"op": "q1", "field": "kappa", "as": "q1"}, {"op": "median", "field": "kappa", "as": "q2"}, {"op": "q3", "field": "kappa", "as": "q3"}], "groupby": ["Models"]},
    {"density": "kappa", "groupby": ["Models", "idx", "q1", "q2", "q3"], "steps": 400, "as": ["value", "density"]},
    {"joinaggregate": [{"op": "max", "field": "density", "as": "dmax"}]},
    {"fold": ["q1", "q2", "q3"], "as": ["qname", "qval"]},
    {"calculate": "abs(datum.value - datum.qval)", "as": "dist"},
    {"window": [{"op": "row_number", "as": "rk"}], "sort": [{"field": "dist", "order": "ascending"}], "groupby": ["Models", "qname"]},
    {"filter": "datum.rk == 1"},
    {"calculate": "datum.idx - 0.45 * datum.density / datum.dmax", "as": "xa"},
    {"calculate": "datum.idx + 0.45 * datum.density / datum.dmax", "as": "xb"}
   ],
   "mark": {"type": "rule", "color": "#333333", "strokeWidth": 0.6},
   "encoding": {
    "y": {"field": "qval", "type": "quantitative", "scale": {"domain": [0.6379, 0.9917], "nice": false, "zero": false},
          "axis": {"title": "kappa", "values": [0.65, 0.7, 0.75, 0.8, 0.85, 0.9, 0.95], "format": ".1f",
                   "labelExpr": "indexof([0.7, 0.8, 0.9], datum.value) >= 0 ? datum.label : ''",
                   "tickOpacity": {"condition": {"test": "indexof([0.7, 0.8, 0.9], datum.value) >= 0", "value": 1}, "value": 0},
                   "gridWidth": {"condition": {"test": "indexof([0.7, 0.8, 0.9], datum.value) >= 0", "value": 1.2}, "value": 0.6},
                   "labelPadding": 2, "titlePadding": 4}},
    "x": {"field": "xa", "type": "quantitative", "scale": {"domain": [0.25, 6.75], "nice": false, "zero": false}, "axis": null},
    "x2": {"field": "xb"}
   }
  },
  {
   "transform": [
    {"window": [{"op": "row_number", "as": "rn"}], "groupby": ["Models"]},
    {"calculate": "datum.idx + 0.28 * (((datum.rn * 0.6180339887) % 1) - 0.5)", "as": "xj"}
   ],
   "mark": {"type": "circle", "size": 21, "color": "#000000", "opacity": 1},
   "encoding": {
    "y": {"field": "kappa", "type": "quantitative", "scale": {"domain": [0.6379, 0.9917], "nice": false, "zero": false},
          "axis": {"title": "kappa", "values": [0.65, 0.7, 0.75, 0.8, 0.85, 0.9, 0.95], "format": ".1f",
                   "labelExpr": "indexof([0.7, 0.8, 0.9], datum.value) >= 0 ? datum.label : ''",
                   "tickOpacity": {"condition": {"test": "indexof([0.7, 0.8, 0.9], datum.value) >= 0", "value": 1}, "value": 0},
                   "gridWidth": {"condition": {"test": "indexof([0.7, 0.8, 0.9], datum.value) >= 0", "value": 1.2}, "value": 0.6},
                   "labelPadding": 2, "titlePadding": 4}},
    "x": {"field": "xj", "type": "quantitative", "scale": {"domain": [0.25, 6.75], "nice": false, "zero": false},
          "axis": {"orient": "top", "title": "Statistic Kruskal-Wallis", "values": [1, 2, 3, 4, 5, 6], "grid": false,
                   "labelExpr": "['0.761 a', '0.805 b', '0.867 c', '0.878 c', '0.879 c', '0.904 d'][datum.value - 1]",
                   "labelPadding": -1.5, "titlePadding": 4}}
   }
  }
 ],
 "resolve": {"scale": {"x": "independent"}, "axis": {"x": "independent"}}
},
{
 "width": 448, "height": 553,
 "data": {"name": "cv"},
 "transform": [{"calculate": "indexof(['avNNet','C5.0','gbm','kknn','rf','svmRadialSigma'], datum.Models) + 1", "as": "idx"}],
 "layer": [
  {
   "transform": [
    {"joinaggregate": [{"op": "min", "field": "Accuracy", "as": "lo"}, {"op": "max", "field": "Accuracy", "as": "hi"}], "groupby": ["Models"]},
    {"density": "Accuracy", "groupby": ["Models", "idx", "lo", "hi"], "steps": 400, "as": ["value", "density"]},
    {"joinaggregate": [{"op": "max", "field": "density", "as": "dmax"}]},
    {"filter": "datum.value >= datum.lo - 0.0003 && datum.value <= datum.hi + 0.0003"},
    {"calculate": "datum.idx - 0.45 * datum.density / datum.dmax", "as": "xa"},
    {"calculate": "datum.idx + 0.45 * datum.density / datum.dmax", "as": "xb"}
   ],
   "mark": {"type": "area", "orient": "horizontal", "stroke": "#333333", "strokeWidth": 0.6},
   "encoding": {
    "y": {"field": "value", "type": "quantitative", "scale": {"domain": [0.8332, 0.9961], "nice": false, "zero": false},
          "axis": {"title": "Accuracy", "values": [0.84, 0.86, 0.88, 0.9, 0.92, 0.94, 0.96, 0.98], "format": ".2f",
                   "labelExpr": "indexof([0.84, 0.88, 0.92, 0.96], datum.value) >= 0 ? datum.label : ''",
                   "tickOpacity": {"condition": {"test": "indexof([0.84, 0.88, 0.92, 0.96], datum.value) >= 0", "value": 1}, "value": 0},
                   "gridWidth": {"condition": {"test": "indexof([0.84, 0.88, 0.92, 0.96], datum.value) >= 0", "value": 1.2}, "value": 0.6},
                   "labelPadding": 2, "titlePadding": 4}},
    "x": {"field": "xa", "type": "quantitative", "scale": {"domain": [0.25, 6.75], "nice": false, "zero": false},
          "axis": {"orient": "bottom", "title": "Models", "values": [0.5, 1, 1.5, 2, 2.5, 3, 3.5, 4, 4.5, 5, 5.5, 6, 6.5], "labels": false,
                   "tickOpacity": {"condition": {"test": "datum.value % 1 == 0", "value": 1}, "value": 0},
                   "gridWidth": {"condition": {"test": "datum.value % 1 == 0", "value": 1.1}, "value": 0.8},
                   "titlePadding": 20}},
    "x2": {"field": "xb"},
    "fill": {"field": "Models", "type": "nominal", "scale": {"domain": ["avNNet", "C5.0", "gbm", "kknn", "rf", "svmRadialSigma"], "range": ["#F8766D", "#B79F00", "#00BA38", "#00BFC4", "#619CFF", "#F564E3"]},
             "legend": {"title": "Models", "orient": "none", "legendX": 472, "legendY": 207}}
   }
  },
  {
   "transform": [
    {"joinaggregate": [{"op": "q1", "field": "Accuracy", "as": "q1"}, {"op": "median", "field": "Accuracy", "as": "q2"}, {"op": "q3", "field": "Accuracy", "as": "q3"}], "groupby": ["Models"]},
    {"density": "Accuracy", "groupby": ["Models", "idx", "q1", "q2", "q3"], "steps": 400, "as": ["value", "density"]},
    {"joinaggregate": [{"op": "max", "field": "density", "as": "dmax"}]},
    {"fold": ["q1", "q2", "q3"], "as": ["qname", "qval"]},
    {"calculate": "abs(datum.value - datum.qval)", "as": "dist"},
    {"window": [{"op": "row_number", "as": "rk"}], "sort": [{"field": "dist", "order": "ascending"}], "groupby": ["Models", "qname"]},
    {"filter": "datum.rk == 1"},
    {"calculate": "datum.idx - 0.45 * datum.density / datum.dmax", "as": "xa"},
    {"calculate": "datum.idx + 0.45 * datum.density / datum.dmax", "as": "xb"}
   ],
   "mark": {"type": "rule", "color": "#333333", "strokeWidth": 0.6},
   "encoding": {
    "y": {"field": "qval", "type": "quantitative", "scale": {"domain": [0.8332, 0.9961], "nice": false, "zero": false},
          "axis": {"title": "Accuracy", "values": [0.84, 0.86, 0.88, 0.9, 0.92, 0.94, 0.96, 0.98], "format": ".2f",
                   "labelExpr": "indexof([0.84, 0.88, 0.92, 0.96], datum.value) >= 0 ? datum.label : ''",
                   "tickOpacity": {"condition": {"test": "indexof([0.84, 0.88, 0.92, 0.96], datum.value) >= 0", "value": 1}, "value": 0},
                   "gridWidth": {"condition": {"test": "indexof([0.84, 0.88, 0.92, 0.96], datum.value) >= 0", "value": 1.2}, "value": 0.6},
                   "labelPadding": 2, "titlePadding": 4}},
    "x": {"field": "xa", "type": "quantitative", "scale": {"domain": [0.25, 6.75], "nice": false, "zero": false}, "axis": null},
    "x2": {"field": "xb"}
   }
  },
  {
   "transform": [
    {"window": [{"op": "row_number", "as": "rn"}], "groupby": ["Models"]},
    {"calculate": "datum.idx + 0.28 * (((datum.rn * 0.4142135624) % 1) - 0.5)", "as": "xj"}
   ],
   "mark": {"type": "circle", "size": 21, "color": "#000000", "opacity": 1},
   "encoding": {
    "y": {"field": "Accuracy", "type": "quantitative", "scale": {"domain": [0.8332, 0.9961], "nice": false, "zero": false},
          "axis": {"title": "Accuracy", "values": [0.84, 0.86, 0.88, 0.9, 0.92, 0.94, 0.96, 0.98], "format": ".2f",
                   "labelExpr": "indexof([0.84, 0.88, 0.92, 0.96], datum.value) >= 0 ? datum.label : ''",
                   "tickOpacity": {"condition": {"test": "indexof([0.84, 0.88, 0.92, 0.96], datum.value) >= 0", "value": 1}, "value": 0},
                   "gridWidth": {"condition": {"test": "indexof([0.84, 0.88, 0.92, 0.96], datum.value) >= 0", "value": 1.2}, "value": 0.6},
                   "labelPadding": 2, "titlePadding": 4}},
    "x": {"field": "xj", "type": "quantitative", "scale": {"domain": [0.25, 6.75], "nice": false, "zero": false},
          "axis": {"orient": "top", "title": "Statistic Kruskal-Wallis", "values": [1, 2, 3, 4, 5, 6], "grid": false,
                   "labelExpr": "['0.891 a', '0.913 b', '0.939 c', '0.944 c', '0.945 c', '0.956 d'][datum.value - 1]",
                   "labelPadding": -1.5, "titlePadding": 4}}
   }
  }
 ],
 "resolve": {"scale": {"x": "independent"}, "axis": {"x": "independent"}}
}
],
"spacing": 7,
"resolve": {"scale": {"fill": "independent"}, "legend": {"fill": "independent"}},
"config": {
 "font": "Liberation Sans",
 "view": {"fill": "#EBEBEB", "stroke": null},
 "axis": {"domain": false, "gridColor": "#FFFFFF", "tickColor": "#333333", "tickSize": 3.5, "tickWidth": 1,
          "labelColor": "#4D4D4D", "labelFontSize": 15.5, "labelFont": "Liberation Sans",
          "titleFont": "Liberation Sans", "titleFontSize": 16, "titleFontWeight": "normal", "titleColor": "#000000",
          "labelFlush": false, "labelOverlap": false},
 "legend": {"titleFont": "Liberation Sans", "labelFont": "Liberation Sans", "titleFontSize": 17, "titleFontWeight": "normal",
            "labelFontSize": 17, "labelColor": "#000000", "titleColor": "#000000", "symbolType": "square", "symbolSize": 370,
            "symbolStrokeColor": "#333333", "symbolStrokeWidth": 0.6, "rowPadding": 0, "labelOffset": 8, "titlePadding": 6, "symbolOpacity": 1}
}
}
